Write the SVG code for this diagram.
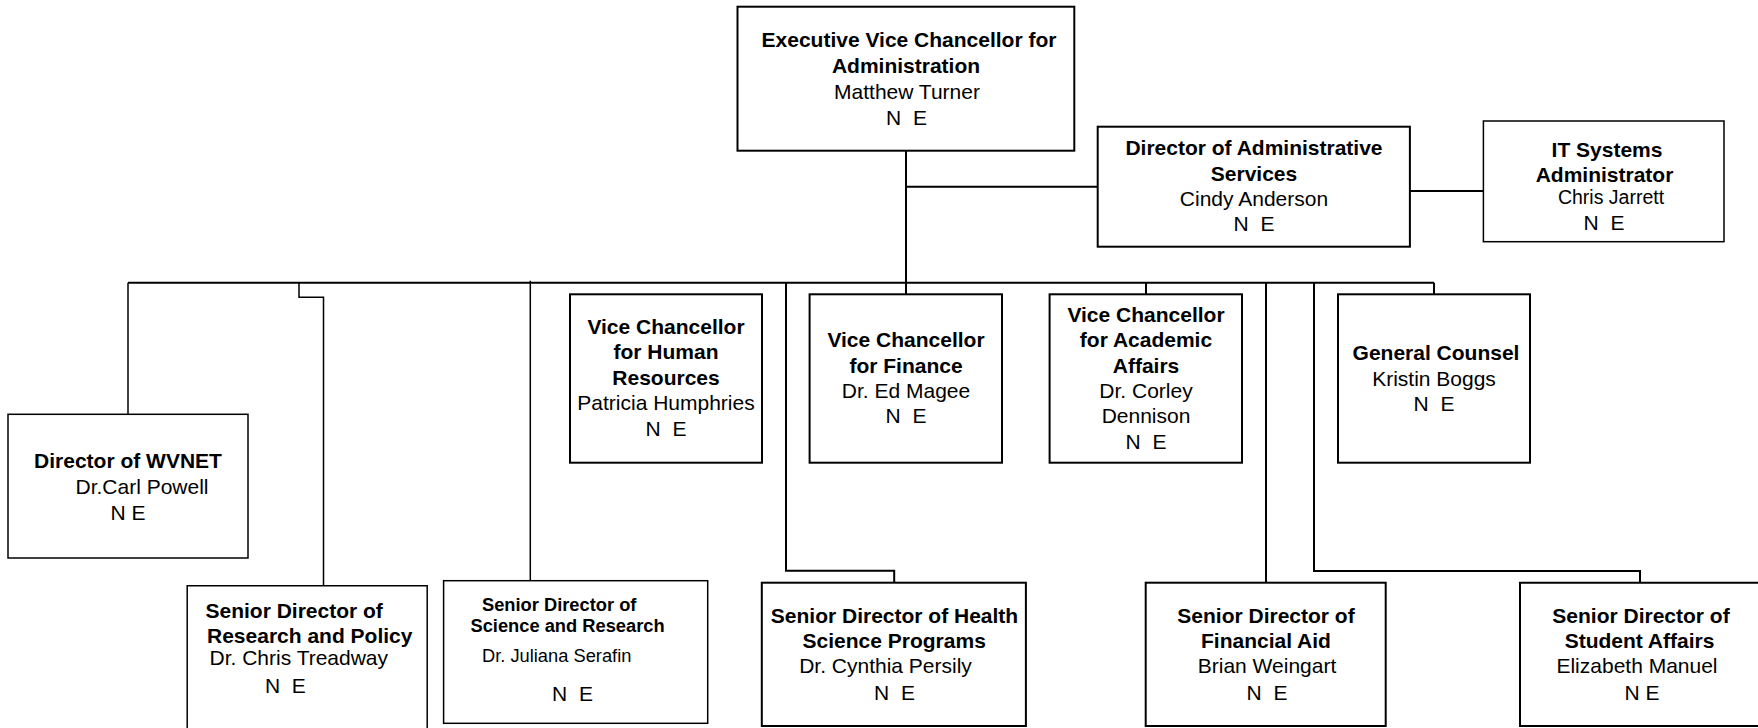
<svg xmlns="http://www.w3.org/2000/svg" width="1758" height="728" viewBox="0 0 1758 728">
<style>
.bx{fill:#fff;stroke:#000;stroke-width:2}
.ln{fill:none;stroke:#000;stroke-width:2}
.tn{fill:none;stroke:#000;stroke-width:1.5}
text{font-family:"Liberation Sans",Arial,sans-serif;font-size:21px;fill:#000}
.b{font-weight:bold}
.c{text-anchor:middle}
.s{font-size:18.3px}
</style>
<rect width="1758" height="728" fill="#fff"/>
<g id="connectors">
<path class="ln" d="M906 151V294.3M906 186.7H1097.7M1410 191H1483.4M128 282.7H1434M1146 282.7V294.3M1434 282.7V294.3M1266 282.7V582.7M1314 282.7V571H1640V582.7M786 282.7V570.7H894.2V582.7"/>
<path class="tn" d="M128 282.7V414.3M299 282.7V297.3H323.5V585.7M530.3 280.7V580.7"/>
</g>
<g id="evc">
<rect class="bx" x="737.5" y="6.7" width="336.8" height="144"/>
<text class="b c" x="909" y="46.7">Executive Vice Chancellor for</text>
<text class="b c" x="906" y="73">Administration</text>
<text class="c" x="907" y="99">Matthew Turner</text>
<text class="c" x="906.5" y="124.5" xml:space="preserve">N  E</text>
</g>
<g id="admin-services">
<rect class="bx" x="1097.7" y="126.7" width="312.2" height="120"/>
<text class="b c" x="1254" y="155">Director of Administrative</text>
<text class="b c" x="1254" y="180.5">Services</text>
<text class="c" x="1254" y="206">Cindy Anderson</text>
<text class="c" x="1254" y="231" xml:space="preserve">N  E</text>
</g>
<g id="it-admin">
<rect class="tn" x="1483.4" y="121" width="240.6" height="120.7" fill="#fff"/>
<text class="b c" x="1607" y="157.3">IT Systems</text>
<text class="b c" x="1604.5" y="182.3">Administrator</text>
<text class="c" x="1611" y="204" style="font-size:19.5px">Chris Jarrett</text>
<text class="c" x="1604" y="230" xml:space="preserve">N  E</text>
</g>
<g id="wvnet">
<rect class="tn" x="8" y="414.3" width="240" height="143.7" fill="#fff"/>
<text class="b c" x="128" y="468">Director of WVNET</text>
<text class="c" x="142" y="494">Dr.Carl Powell</text>
<text class="c" x="128" y="520">N E</text>
</g>
<g id="vc-hr">
<rect class="bx" x="570" y="294.3" width="192" height="168.4"/>
<text class="b c" x="666" y="334">Vice Chancellor</text>
<text class="b c" x="666" y="359">for Human</text>
<text class="b c" x="666" y="384.5">Resources</text>
<text class="c" x="666" y="410">Patricia Humphries</text>
<text class="c" x="666" y="436" xml:space="preserve">N  E</text>
</g>
<g id="vc-finance">
<rect class="bx" x="809.6" y="294.3" width="192.4" height="168.4"/>
<text class="b c" x="906" y="347.3">Vice Chancellor</text>
<text class="b c" x="906" y="372.5">for Finance</text>
<text class="c" x="906" y="397.7">Dr. Ed Magee</text>
<text class="c" x="906" y="423.3" xml:space="preserve">N  E</text>
</g>
<g id="vc-academic">
<rect class="bx" x="1049.6" y="294.3" width="192.4" height="168.4"/>
<text class="b c" x="1146" y="322.3">Vice Chancellor</text>
<text class="b c" x="1146" y="347.3">for Academic</text>
<text class="b c" x="1146" y="372.5">Affairs</text>
<text class="c" x="1146" y="397.7">Dr. Corley</text>
<text class="c" x="1146" y="423.3">Dennison</text>
<text class="c" x="1146" y="448.7" xml:space="preserve">N  E</text>
</g>
<g id="general-counsel">
<rect class="bx" x="1338" y="294.3" width="192" height="168.4"/>
<text class="b c" x="1436" y="360">General Counsel</text>
<text class="c" x="1434" y="385.5">Kristin Boggs</text>
<text class="c" x="1434" y="411" xml:space="preserve">N  E</text>
</g>
<g id="research-policy">
<path class="tn" d="M187.2 740V585.7H427.2V740" fill="#fff"/>
<text class="b" x="205.5" y="618.3">Senior Director of</text>
<text class="b" x="207" y="643.3">Research and Policy</text>
<text x="209.5" y="664.5">Dr. Chris Treadway</text>
<text x="265" y="692.7" xml:space="preserve">N  E</text>
</g>
<g id="science-research">
<rect class="tn" x="443.6" y="580.7" width="264.1" height="142.6" fill="#fff"/>
<text class="b s" x="482" y="610.5">Senior Director of</text>
<text class="b s" x="470.5" y="632">Science and Research</text>
<text class="s" x="482" y="662.3">Dr. Juliana Serafin</text>
<text class="c" x="572.5" y="700.7" xml:space="preserve">N  E</text>
</g>
<g id="health-science">
<rect class="bx" x="761.8" y="582.7" width="264.1" height="143.3"/>
<text class="b c" x="894.5" y="623.3">Senior Director of Health</text>
<text class="b c" x="894.2" y="648.3">Science Programs</text>
<text class="c" x="885.5" y="673.3">Dr. Cynthia Persily</text>
<text class="c" x="894.5" y="700" xml:space="preserve">N  E</text>
</g>
<g id="financial-aid">
<rect class="bx" x="1145.7" y="582.7" width="240" height="143.3"/>
<text class="b c" x="1266" y="623.3">Senior Director of</text>
<text class="b c" x="1266" y="648.3">Financial Aid</text>
<text class="c" x="1267" y="673.3">Brian Weingart</text>
<text class="c" x="1267" y="700" xml:space="preserve">N  E</text>
</g>
<g id="student-affairs">
<path class="bx" d="M1770 582.7H1520V726H1770"/>
<text class="b c" x="1641" y="623.3">Senior Director of</text>
<text class="b c" x="1639.5" y="648.3">Student Affairs</text>
<text class="c" x="1637" y="673.3">Elizabeth Manuel</text>
<text class="c" x="1642" y="700">N E</text>
</g>
</svg>
